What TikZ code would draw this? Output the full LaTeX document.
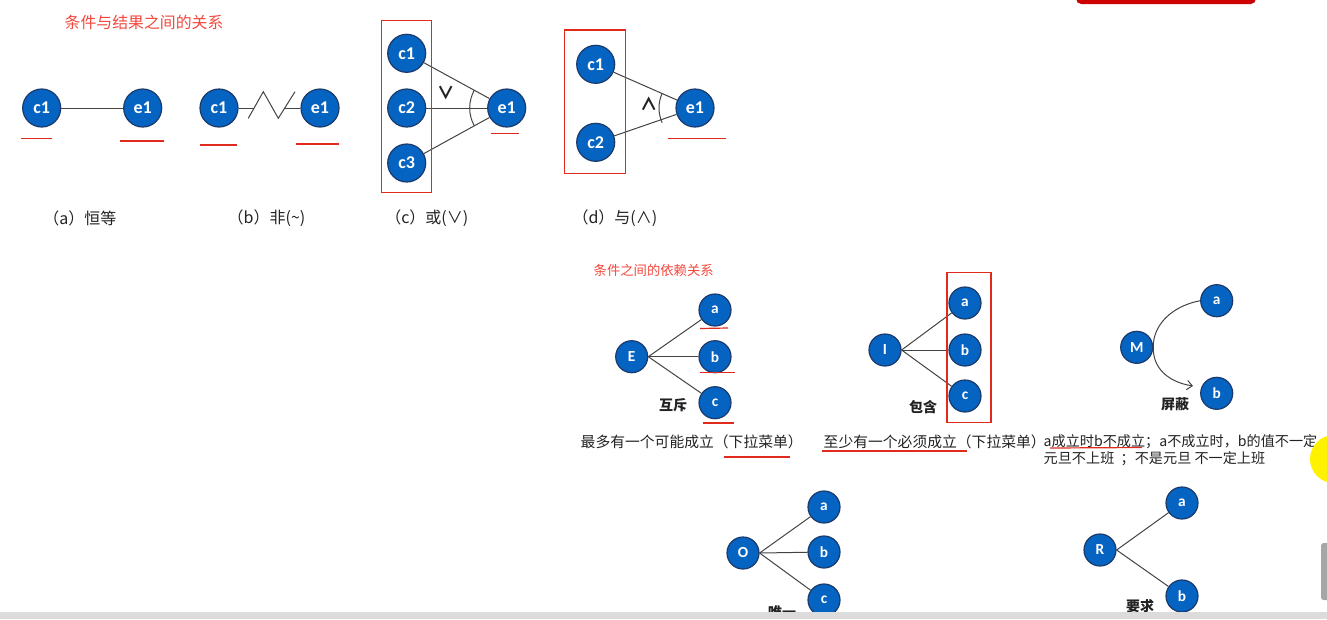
\documentclass[tikz,border=0pt]{standalone}
\usepackage{fontspec}
\setmainfont{Noto Sans CJK SC}
\newfontfamily\dotfont{Carlito}
\usepackage{tikz}
\usetikzlibrary{positioning,arrows.meta}
\definecolor{ink}{HTML}{222222}
\definecolor{nodefill}{HTML}{0563C1}
\definecolor{nodeedge}{HTML}{1B3A6B}
\definecolor{underred}{HTML}{E02A1E}
\definecolor{headred}{HTML}{F2473D}
\definecolor{barfill}{HTML}{DCDCDC}

\begin{document}
\begin{tikzpicture}[x=0.75pt,y=-0.75pt,text=ink,
  bigdot/.style={circle,fill=nodefill,draw=nodeedge,line width=0.9pt,minimum size=28.5pt,inner sep=0pt,text=white,font=\dotfont\bfseries\fontsize{13.5}{14}\selectfont},
  smalldot/.style={bigdot,minimum size=24pt,font=\dotfont\bfseries\fontsize{11.5}{12}\selectfont},
  link/.style={ink!85,line width=0.75pt},
  uline/.style={underred,line width=0.9pt},
  groupbox/.style={underred,line width=0.9pt},
  caption/.style={anchor=east,font=\fontsize{12}{14}\selectfont},
  tag/.style={font=\bfseries\fontsize{10.5}{12}\selectfont},
  note/.style={anchor=west,font=\fontsize{11.1}{13}\selectfont}]
\useasboundingbox (0,0) rectangle (1327,619);

% Title of the upper half
\node[anchor=west,text=headred,font=\fontsize{11.9}{14}\selectfont] (head1) at (60,22) {条件与结果之间的关系};

% (a) identity
\node[bigdot] (ac1) at (41.7,108) {c1};
\node[bigdot] (ae1) at (142.7,108) {e1};
\draw[link] (ac1) -- (ae1);
\draw[uline] (21,138.6) -- (52,138.6);
\draw[uline] (120,141) -- (164,141);

% (b) negation
\node[bigdot] (bc1) at (219,108) {c1};
\node[bigdot] (be1) at (320,108) {e1};
\coordinate (bz1) at (254,108);
\coordinate (bz2) at (285,108);
\draw[link] (bc1) -- (bz1);
\draw[link] (bz2) -- (be1);
\draw[link] (248.3,118.3) -- (263.3,91.7) -- (278.3,118.3) -- (295,91.7);
\draw[uline] (200,145) -- (237,145);
\draw[uline] (296,144) -- (339,144);

% (c) or
\node[bigdot] (cc1) at (406.7,53.3) {c1};
\node[bigdot] (cc2) at (406.7,108) {c2};
\node[bigdot] (cc3) at (406.7,163) {c3};
\node[bigdot] (ce1) at (506.7,108) {e1};
\foreach \n in {cc1,cc2,cc3} {
  \draw[link] (\n) -- (ce1);
}
\draw[link] (ce1.center) ++(151:37) arc (151:209:37);
\node[font=\bfseries\fontsize{13}{14}\selectfont] (corsym) at (446,93) {∨};
\draw[groupbox] (381.7,20.7) rectangle (431.7,192.7);
\draw[uline] (490.7,133.7) -- (519,133.7);

% (d) and
\node[bigdot] (dc1) at (595.7,64.3) {c1};
\node[bigdot] (dc2) at (595.7,142.3) {c2};
\node[bigdot] (de1) at (695,108) {e1};
\foreach \n in {dc1,dc2} {
  \draw[link] (\n) -- (de1);
}
\draw[link] (de1.center) ++(156:36) arc (156:204:36);
\node[font=\bfseries\fontsize{13}{14}\selectfont] (dandsym) at (649,104) {∧};
\draw[groupbox] (564.3,30) rectangle (625.7,173.3);
\draw[uline] (668,138.3) -- (725.7,138.3);

% Captions
\node[caption] (capa) at (121,218) {（a）恒等};
\node[caption] (capb) at (310,218) {（b）非(\textasciitilde)};
\node[caption] (capc) at (473,218) {（c）或(∨)};
\node[caption] (capd) at (662,218) {（d）与(∧)};

% Title of the lower half
\node[anchor=west,text=headred,font=\fontsize{10}{12}\selectfont] (head2) at (589,270) {条件之间的依赖关系};

% E exclusive
\node[smalldot] (E) at (631.7,356.7) {E};
\node[smalldot] (Ea) at (715,310) {a};
\node[smalldot] (Eb) at (715,356.7) {b};
\node[smalldot] (Ec) at (715,402.7) {c};
\foreach \n in {Ea,Eb,Ec} {
  \draw[link] (E.east) -- (\n);
}
\node[tag] (Etag) at (673,405) {互斥};
\draw[uline] (700,328.5) -- (728,328);
\draw[uline] (700,372.7) -- (735,372.7);
\draw[uline] (703,423) -- (734,423);
\node[note] (Enote) at (576,441.5) {最多有一个可能成立（下拉菜单）};
\draw[uline] (724,457) -- (790,457);

% I inclusive
\node[smalldot] (I) at (885,350) {I};
\node[smalldot] (Ia) at (965,303) {a};
\node[smalldot] (Ib) at (965,350) {b};
\node[smalldot] (Ic) at (965,396) {c};
\foreach \n in {Ia,Ib,Ic} {
  \draw[link] (I.east) -- (\n);
}
\draw[groupbox] (947,272.5) rectangle (991,422.3);
\node[tag] (Itag) at (923,407) {包含};
\node[note] (Inote) at (819,441.5) {至少有一个必须成立（下拉菜单）};
\draw[uline] (822,451) -- (967,451);

% M masking
\node[smalldot] (M) at (1136.7,347.3) {M};
\node[smalldot] (Ma) at (1216.7,300.7) {a};
\node[smalldot] (Mb) at (1216.7,393.3) {b};
\coordinate (Mtip) at (1193,386);
\draw[link,-{Straight Barb[length=4pt,width=7pt]}] (Ma.west) .. controls (1172,306) and (1152.7,325) .. (M.east) .. controls (1152.7,368) and (1168,382) .. (Mtip);
\node[tag] (Mtag) at (1175,404) {屏蔽};
\node[note,font=\fontsize{10.6}{13}\selectfont] (Mnote1) at (1039,441.5) {a成立时b不成立；a不成立时，b的值不一定};
\node[note,font=\fontsize{10.6}{13}\selectfont] (Mnote2) at (1039,458.3) {元旦不上班\ \ ；不是元旦 不一定上班};
\draw[uline] (1050,448) -- (1142,447.5);

% O only one
\node[smalldot] (O) at (743,553) {O};
\node[smalldot] (Oa) at (824,507) {a};
\node[smalldot] (Ob) at (824,552) {b};
\node[smalldot] (Oc) at (824,600) {c};
\foreach \n in {Oa,Ob,Oc} {
  \draw[link] (O.east) -- (\n);
}
\node[tag] (Otag) at (782,612) {唯一};

% R requires
\node[smalldot] (R) at (1100,550) {R};
\node[smalldot] (Ra) at (1182,503) {a};
\node[smalldot] (Rb) at (1182,596) {b};
\foreach \n in {Ra,Rb} {
  \draw[link] (R.east) -- (\n);
}
\node[tag] (Rtag) at (1140,606) {要求};

% Screen leftovers
\fill[barfill] (0,612) rectangle (1327,619);
\fill[red!80!black,rounded corners=4pt] (1076,-8) rectangle (1256,4);
\fill[yellow] (1334,459) circle (24);
\fill[gray!70,rounded corners=2pt] (1321,543) rectangle (1330,600);

\end{tikzpicture}
\end{document}
